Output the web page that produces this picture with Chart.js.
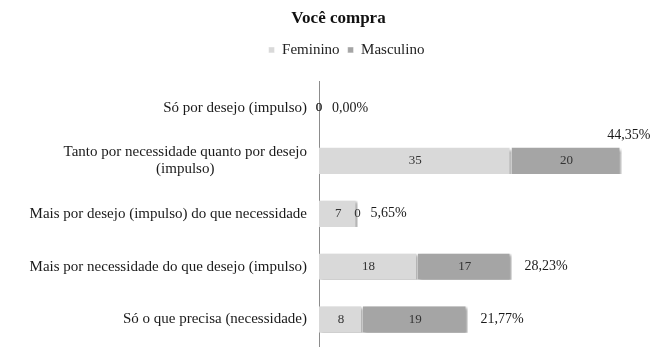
<!DOCTYPE html>
<html><head><meta charset="utf-8">
<script src="https://cdn.jsdelivr.net/npm/chart.js@4/dist/chart.umd.min.js"></script>
<style>html,body{margin:0;padding:0;background:#fff;}canvas{display:block;}</style>
</head><body>
<canvas id="c" width="671" height="359"></canvas>
<script>
const categories = [
  ['Só por desejo (impulso)'],
  ['Tanto por necessidade quanto por desejo', '(impulso)'],
  ['Mais por desejo (impulso) do que necessidade'],
  ['Mais por necessidade do que desejo (impulso)'],
  ['Só o que precisa (necessidade)']
];
const feminino = [0, 35, 7, 18, 8];
const masculino = [0, 20, 0, 17, 19];
const percentLabels = ['0,00%', '44,35%', '5,65%', '28,23%', '21,77%'];
const seriesNames = ['Feminino', 'Masculino'];
const chartTitle = 'Você compra';

const SERIF = "'Liberation Serif', 'Times New Roman', serif";

const customPlugin = {
  id: 'custom',
  afterInit(chart) {
    const lg = chart.legend;
    if (lg) {
      const orig = lg.fit;
      lg.fit = function () { orig.call(this); this.height += 14; };
    }
  },
  afterLayout(chart) {
    if (chart.legend) { chart.legend.left += 11; chart.legend.right += 11; }
    if (chart.titleBlock) { chart.titleBlock.left += 3; chart.titleBlock.right += 3; }
  },
  beforeDatasetsDraw(chart) {
    const ctx = chart.ctx;
    ctx.save();
    ctx.shadowColor = 'rgba(0,0,0,0.35)';
    ctx.shadowBlur = 3;
    ctx.shadowOffsetX = 2;
    ctx.shadowOffsetY = 2;
  },
  afterDatasetsDraw(chart) {
    const ctx = chart.ctx;
    ctx.restore();
    ctx.save();
    // value labels
    ctx.font = '13px ' + SERIF;
    ctx.fillStyle = '#333333';
    ctx.textAlign = 'center';
    ctx.textBaseline = 'middle';
    chart.data.datasets.forEach((ds, di) => {
      const meta = chart.getDatasetMeta(di);
      meta.data.forEach((bar, i) => {
        const cx = (bar.x + bar.base) / 2;
        ctx.fillText(String(ds.data[i]), cx, bar.y);
      });
    });
    // total percent labels
    const xs = chart.scales.x;
    const area = chart.chartArea;
    ctx.font = '14px ' + SERIF;
    ctx.fillStyle = '#1a1a1a';
    const lastMeta = chart.getDatasetMeta(chart.data.datasets.length - 1);
    percentLabels.forEach((t, i) => {
      const total = feminino[i] + masculino[i];
      const px = xs.getPixelForValue(total);
      const bar = lastMeta.data[i];
      const w = ctx.measureText(t).width;
      if (px + 13 + w > chart.width - 8) {
        ctx.textAlign = 'right';
        ctx.fillText(t, px + 29, bar.y - bar.height / 2 - 12);
      } else {
        ctx.textAlign = 'left';
        ctx.fillText(t, px + 13, bar.y);
      }
    });
    // category labels
    const ys = chart.scales.y;
    ctx.font = '15px ' + SERIF;
    ctx.fillStyle = '#1a1a1a';
    const rightX = area.left - 12;
    const lh = 17;
    categories.forEach((lines, i) => {
      const y = ys.getPixelForValue(i);
      const widths = lines.map(l => ctx.measureText(l).width);
      const widest = Math.max(...widths);
      const cx = rightX - widest / 2;
      lines.forEach((l, k) => {
        const ly = y + (k - (lines.length - 1) / 2) * lh;
        ctx.textAlign = lines.length > 1 ? 'center' : 'right';
        ctx.fillText(l, lines.length > 1 ? cx : rightX, ly);
      });
    });
    ctx.restore();
  }
};

new Chart(document.getElementById('c'), {
  type: 'bar',
  data: {
    labels: categories.map(c => c.join(' ')),
    datasets: [
      { label: seriesNames[0], data: feminino, backgroundColor: '#d9d9d9', borderColor: '#ffffff', borderWidth: {right: 2}, borderSkipped: false },
      { label: seriesNames[1], data: masculino, backgroundColor: '#a5a5a5', borderColor: '#ffffff', borderWidth: {right: 2}, borderSkipped: false }
    ]
  },
  options: {
    indexAxis: 'y',
    responsive: false,
    devicePixelRatio: 1,
    animation: false,
    layout: { padding: { left: 0, right: 0, top: 0, bottom: 13 } },
    scales: {
      x: { stacked: true, min: 0, max: 64, display: false },
      y: {
        stacked: true,
        grid: { display: false, drawTicks: false },
        border: { display: true, color: '#8c8c8c', width: 1 },
        ticks: { display: false },
        afterFit(scale) { scale.width = 319; }
      }
    },
    datasets: { bar: { categoryPercentage: 1, barPercentage: 0.5 } },
    plugins: {
      title: {
        display: true, text: chartTitle, color: '#111',
        font: { family: SERIF, size: 17, weight: 'bold' },
        padding: { top: 8, bottom: 6 }
      },
      legend: {
        display: true,
        labels: {
          color: '#222', font: { family: SERIF, size: 15 },
          boxWidth: 6, boxHeight: 6, padding: 8
        }
      },
      tooltip: { enabled: false }
    }
  },
  plugins: [customPlugin]
});
</script>
</body></html>
